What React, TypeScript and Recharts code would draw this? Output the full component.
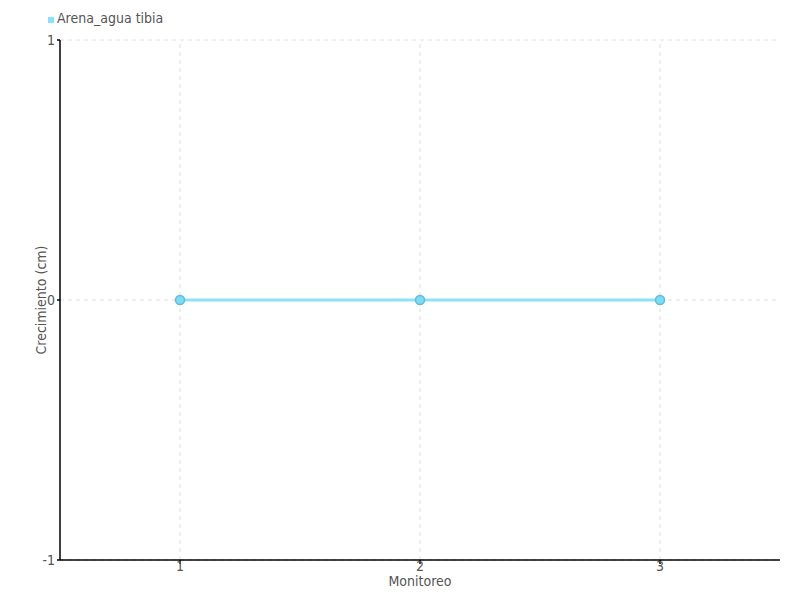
import React from "react";
import { LineChart, Line, XAxis, YAxis, CartesianGrid, Legend, ReferenceLine } from "recharts";

const monitoreos = [1, 2, 3];
const arenaAguaTibia = [0, 0, 0];
const yTicks = [-1, 0, 1];
const seriesName = "Arena_agua tibia";

const data = monitoreos.map((m, i) => ({ monitoreo: m, valor: arenaAguaTibia[i] }));

const font = "'Liberation Sans Narrow', 'DejaVu Sans Condensed', sans-serif";
const textColor = "#555";
const gridColor = "#e0e0e0";

function LegendContent() {
  return (
    <div style={{ display: "flex", alignItems: "center", fontFamily: font, fontSize: 14, color: textColor }}>
      <span style={{ width: 6, height: 6, background: "#8ee2f7", display: "inline-block", marginRight: 3, marginTop: 4 }} />
      <span>{seriesName}</span>
    </div>
  );
}

export default function App() {
  return (
    <div style={{ position: "absolute", left: 0, top: 0, background: "#fff" }}>
      <LineChart width={800} height={600} data={data} margin={{ top: 24, right: 20, bottom: 0, left: 0 }}>
        <CartesianGrid stroke={gridColor} strokeDasharray="4 4" vertical={false} />
        {monitoreos.map((m) => (
          <ReferenceLine key={m} x={m} stroke={gridColor} strokeDasharray="4 4" />
        ))}
        <XAxis
          dataKey="monitoreo"
          type="number"
          domain={[0.5, 3.5]}
          ticks={monitoreos}
          height={40}
          tickSize={4}
          tickMargin={-3}
          stroke="#000"
          strokeWidth={1.5}
          tick={{ fill: textColor, fontSize: 14, fontFamily: font }}
          label={{ value: "Monitoreo", position: "insideBottom", offset: 14, fill: textColor, fontSize: 14, fontFamily: font }}
        />
        <YAxis
          type="number"
          domain={[-1, 1]}
          ticks={yTicks}
          width={60}
          tickSize={3}
          tickMargin={2}
          stroke="#000"
          strokeWidth={1.5}
          tick={{ fill: textColor, fontSize: 14, fontFamily: font }}
          label={{
            value: "Crecimiento (cm)",
            angle: -90,
            position: "insideLeft",
            offset: 41,
            style: { textAnchor: "middle" },
            fill: textColor,
            fontSize: 14,
            fontFamily: font,
          }}
        />
        <Legend
          verticalAlign="top"
          align="left"
          content={<LegendContent />}
          wrapperStyle={{ top: 10, left: 48, width: 200 }}
        />
        <Line
          dataKey="valor"
          name={seriesName}
          stroke="#8ee2f7"
          strokeWidth={3}
          dot={{ r: 4.5, fill: "#7fdcf5", stroke: "#5fbcd6", strokeWidth: 1.5 }}
          isAnimationActive={false}
        />
      </LineChart>
    </div>
  );
}
